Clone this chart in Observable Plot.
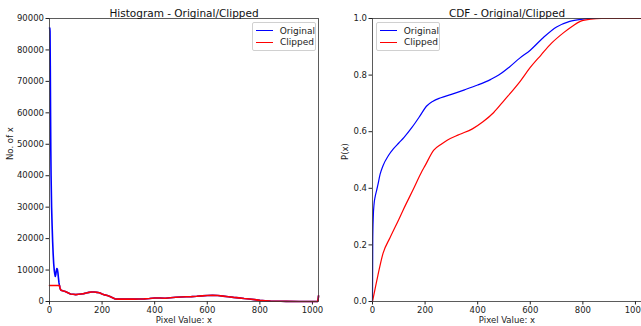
<!DOCTYPE html>
<html><head><meta charset="utf-8">
<script src="https://cdn.jsdelivr.net/npm/d3@7"></script>
<script src="https://cdn.jsdelivr.net/npm/@observablehq/plot@0.6"></script>
<style>
body{margin:0;background:#fff;font-family:"DejaVu Sans",sans-serif;}
#wrap{position:relative;width:641px;height:326px;display:flex;overflow:hidden;}
#wrap svg{overflow:visible;flex:none;}
.legend{position:absolute;background:rgba(255,255,255,0.8);border:1px solid #d0d0d0;border-radius:2px;font-size:9px;color:#222;padding:2px 0;}
.legend .row{display:flex;align-items:center;height:11.5px;}
.legend .sw{width:17px;height:0;border-top:1.5px solid;margin:0 7px 0 3px;}
</style></head><body><div id="wrap"></div>
<script>
const xTicks = [0, 200, 400, 600, 800, 1000];
const histYTicks = [0, 10000, 20000, 30000, 40000, 50000, 60000, 70000, 80000, 90000];
const cdfYTicks = [0, 0.2, 0.4, 0.6, 0.8, 1.0];
const seriesNames = ["Original", "Clipped"];
const seriesColors = ["blue", "red"];

// Histogram: head (x < 44) differs, tail shared
const histOrigHeadX = [0,1,2,3,4,5,6,8,10,12,14,16,18,20,22,24,26,28,30,32,34,36,38,40,42];
const histOrigHeadY = [87000,87000,86000,75000,60000,48000,40000,30000,24000,19000,15000,12000,10000,8800,8000,8600,9800,10500,10200,9200,7500,6000,5000,4300,3800];
const histClipHeadX = [0,10,20,30,38,40,42];
const histClipHeadY = [5100,5100,5100,5100,5100,4300,3800];
const histTailX = [44,50,60,70,80,90,100,110,120,130,140,150,160,170,180,190,200,210,220,230,240,250,260,280,300,320,340,360,380,400,420,440,460,480,500,520,540,560,580,600,620,640,660,680,700,720,740,760,780,800,820,840,860,880,900,950,1000,1020,1022,1023];
const histTailY = [3600,3400,3200,2800,2400,2300,2200,2300,2400,2500,2700,2900,3000,3000,2900,2800,2400,2100,1900,1600,1200,800,750,750,750,750,800,850,950,1100,1100,1050,1200,1350,1450,1500,1550,1650,1800,1900,2000,1900,1700,1500,1300,1150,950,800,600,350,250,150,100,60,40,20,10,10,1000,1800];

const cdfOrigX = [0,1,3,6,10,15,20,29,40,60,80,100,120,150,180,205,230,260,300,350,400,450,480,520,560,600,650,700,750,800,820,900,1023];
const cdfOrigY = [0,0.22,0.3,0.345,0.37,0.39,0.41,0.45,0.48,0.515,0.54,0.56,0.58,0.615,0.655,0.69,0.708,0.72,0.732,0.748,0.765,0.785,0.8,0.828,0.86,0.888,0.933,0.97,0.99,0.998,1,1,1];
const cdfClipX = [0,20,40,67,100,118,157,188,200,233,260,284,330,380,420,461,500,563,600,640,680,727,760,790,830,870,1023];
const cdfClipY = [0,0.09,0.17,0.226,0.29,0.326,0.4,0.46,0.48,0.535,0.555,0.57,0.59,0.61,0.635,0.668,0.71,0.78,0.827,0.87,0.912,0.95,0.973,0.99,0.998,1,1];

const zip = (xs, ys) => xs.map((x, i) => ({x, y: ys[i]}));
const histOrig = zip(histOrigHeadX.concat(histTailX), histOrigHeadY.concat(histTailY));
const histClip = zip(histClipHeadX.concat(histTailX), histClipHeadY.concat(histTailY));
const cdfOrig = zip(cdfOrigX, cdfOrigY);
const cdfClip = zip(cdfClipX, cdfClipY);

const font = {fontFamily: "DejaVu Sans, sans-serif", fontSize: "8.5px", color: "#222", background: "white"};

function axes(yTicks, yFmt) {
  return [
    Plot.axisX({ticks: xTicks, tickSize: 3.5, tickPadding: 1.5, label: null, tickFormat: d => String(d), stroke: "#222"}),
    Plot.axisY({ticks: yTicks, tickSize: 3.5, tickPadding: 2, label: null, tickFormat: yFmt, stroke: "#222"}),
  ];
}

const left = Plot.plot({
  width: 330, height: 326,
  marginLeft: 49, marginRight: 12, marginTop: 18, marginBottom: 25,
  style: font,
  x: {domain: [0, 1023]},
  y: {domain: [0, 90000]},
  marks: [
    ...axes(histYTicks, d => String(d)),
    Plot.line(histOrig, {x: "x", y: "y", stroke: seriesColors[0], strokeWidth: 1.6}),
    Plot.line(histClip, {x: "x", y: "y", stroke: seriesColors[1], strokeWidth: 1.6}),
    Plot.frame({stroke: "#333", strokeWidth: 0.8}),
    Plot.text(["Histogram - Original/Clipped"], {frameAnchor: "top", dy: -9, fontSize: 10.5, fill: "#111"}),
    Plot.text(["Pixel Value: x"], {frameAnchor: "bottom", dy: 21, fontSize: 8.5, fill: "#222"}),
    Plot.text(["No. of x"], {frameAnchor: "left", dx: -39, rotate: -90, fontSize: 8.5, fill: "#222"}),
  ]
});

const right = Plot.plot({
  width: 311, height: 326,
  marginLeft: 42, marginRight: 0, marginTop: 18, marginBottom: 25,
  style: font,
  x: {domain: [0, 1023]},
  y: {domain: [0, 1]},
  marks: [
    ...axes(cdfYTicks, d3.format(".1f")),
    Plot.line(cdfOrig, {x: "x", y: "y", stroke: seriesColors[0], strokeWidth: 1.2, curve: "monotone-x"}),
    Plot.line(cdfClip, {x: "x", y: "y", stroke: seriesColors[1], strokeWidth: 1.2, curve: "monotone-x"}),
    Plot.frame({stroke: "#333", strokeWidth: 0.8}),
    Plot.text(["CDF - Original/Clipped"], {frameAnchor: "top", dy: -9, fontSize: 10.5, fill: "#111"}),
    Plot.text(["Pixel Value: x"], {frameAnchor: "bottom", dy: 21, fontSize: 8.5, fill: "#222"}),
    Plot.text(["P(x)"], {frameAnchor: "left", dx: -27, rotate: -90, fontSize: 8.5, fill: "#222"}),
  ]
});

const wrap = document.getElementById("wrap");
wrap.append(left, right);

function legend(leftPx, topPx, width) {
  const div = document.createElement("div");
  div.className = "legend";
  div.style.left = leftPx + "px";
  div.style.top = topPx + "px";
  div.style.width = width + "px";
  seriesNames.forEach((name, i) => {
    const row = document.createElement("div");
    row.className = "row";
    const sw = document.createElement("div");
    sw.className = "sw";
    sw.style.borderTopColor = seriesColors[i];
    const t = document.createElement("span");
    t.textContent = name;
    row.append(sw, t);
    div.append(row);
  });
  wrap.append(div);
}
legend(252, 22, 62);
legend(376, 22, 62);
</script>
</body></html>
